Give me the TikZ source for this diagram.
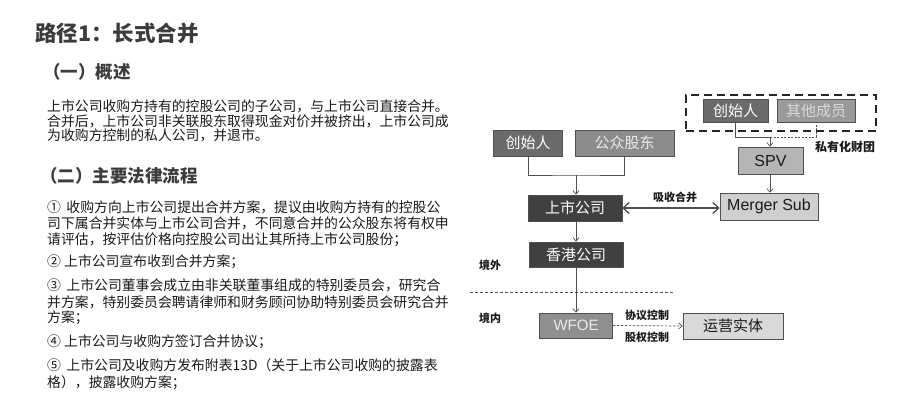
\documentclass[tikz,border=0pt]{standalone}
\usepackage{fontspec}
\setmainfont{Noto Sans CJK SC}
\newfontfamily\arial{Liberation Sans}
\usetikzlibrary{arrows.meta}
\definecolor{txt}{HTML}{1A1A1A}
\definecolor{ttl}{HTML}{3C3C3C}
\definecolor{ln}{HTML}{505050}
\definecolor{cA}{HTML}{6B6B6B}
\definecolor{cB}{HTML}{8C8C8C}
\definecolor{cC}{HTML}{404040}
\definecolor{cD}{HTML}{8F8F8F}
\definecolor{cE}{HTML}{D9D9D9}
\definecolor{cF}{HTML}{CFCFCF}
\definecolor{cG}{HTML}{B5B5B5}
\definecolor{cH}{HTML}{9A9A9A}
\begin{document}
\begin{tikzpicture}[x=1pt,y=-1pt,
  body/.style={anchor=west,inner sep=0pt,text=txt,font=\fontsize{13.85}{14}\selectfont},
  head/.style={anchor=west,inner sep=0pt,text=ttl,font=\fontsize{17.5}{18}\selectfont\bfseries},
  small/.style={inner sep=0pt,text=txt,font=\fontsize{11}{12}\selectfont\bfseries},
  bx/.style={draw=ln,line width=0.6pt,inner sep=0pt,font=\fontsize{15}{16}\selectfont},
  conn/.style={draw=ln,line width=0.7pt},
  arr/.style={conn,-{Straight Barb[length=3.5pt,width=6pt]}}
]
\useasboundingbox (0,0) rectangle (903,403);
% left text
\node[anchor=west,inner sep=0pt,text=ttl,font=\fontsize{21.5}{22}\selectfont\bfseries] (title) at (35,33) {路径1：长式合并};
\node[head] (h1) at (43,72) {（一）概述};
\node[body] (o1) at (47,106) {上市公司收购方持有的控股公司的子公司，与上市公司直接合并。};
\node[body] (o2) at (47,121) {合并后，上市公司非关联股东取得现金对价并被挤出，上市公司成};
\node[body] (o3) at (47,135) {为收购方控制的私人公司，并退市。};
\node[head] (h2) at (40,176) {（二）主要法律流程};
\node[body] (p1) at (47,207) {①\, 收购方向上市公司提出合并方案，提议由收购方持有的控股公};
\node[body] (p2) at (47,223) {司下属合并实体与上市公司合并，不同意合并的公众股东将有权申};
\node[body] (p3) at (47,240) {请评估，按评估价格向控股公司出让其所持上市公司股份；};
\node[body] (p4) at (47,262) {② 上市公司宣布收到合并方案；};
\node[body] (p5) at (47,285) {③\, 上市公司董事会成立由非关联董事组成的特别委员会，研究合};
\node[body] (p6) at (47,302) {并方案，特别委员会聘请律师和财务顾问协助特别委员会研究合并};
\node[body] (p7) at (47,318) {方案；};
\node[body] (p8) at (47,342) {④ 上市公司与收购方签订合并协议；};
\node[body] (p9) at (47,365) {⑤\, 上市公司及收购方发布附表13D（关于上市公司收购的披露表};
\node[body] (p10) at (47,383) {格），披露收购方案；};
% diagram boxes
\node[bx,fill=cA,text=white,minimum width=69pt,minimum height=26pt] (f1) at (528,143) {创始人};
\node[bx,fill=cB,text=white!92!black,minimum width=99pt,minimum height=26pt] (pub) at (624.5,143) {公众股东};
\node[bx,fill=cC,text=white,minimum width=94pt,minimum height=26pt] (ls) at (575,208) {上市公司};
\node[bx,fill=cC,text=white,minimum width=94pt,minimum height=25pt] (hk) at (576,254.5) {香港公司};
\node[bx,fill=cD,text=white!92!black,minimum width=73pt,minimum height=25pt,font=\arial\fontsize{15}{16}\selectfont] (wf) at (576,325.5) {WFOE};
\node[bx,fill=cE,text=txt,minimum width=100pt,minimum height=26pt] (op) at (733,326) {运营实体};
\node[bx,fill=cF,text=txt,minimum width=98pt,minimum height=27pt,font=\arial\fontsize{16}{17}\selectfont] (ms) at (769,206.5) {Merger Sub};
\node[bx,fill=cG,text=txt,minimum width=65pt,minimum height=27pt,font=\arial\fontsize{16}{17}\selectfont] (spv) at (770.5,160.5) {SPV};
\node[bx,fill=cA,text=white,minimum width=65pt,minimum height=23pt] (f2) at (735.5,110.5) {创始人};
\node[bx,fill=cH,text=white!85!black,minimum width=78pt,minimum height=23pt] (oth) at (816,110.5) {其他成员};
\node[draw=black!85,line width=1.8pt,dash pattern=on 8pt off 5pt,minimum width=190pt,minimum height=36pt,inner sep=0pt] (grp) at (781,113) {};
\node[small,font=\fontsize{12}{13}\selectfont\bfseries] (grpl) at (845,147) {私有化财团};
% connectors left
\coordinate (j1) at (576,175);
\draw[conn] (f1.south) |- (j1) -| (pub.south);
\draw[arr] (j1) -- (j1 |- ls.north);
\draw[arr] (ls.south -| j1) -- (hk.north -| j1);
\draw[arr] (hk.south -| j1) -- (wf.north -| j1);
\draw[conn,line width=1.3pt,{Straight Barb[length=6pt,width=11pt]}-{Straight Barb[length=6pt,width=11pt]}] (ls.east) -- (ls.east -| ms.west);
\node[small] (absl) at (675,197) {吸收合并};
% connectors right
\coordinate (j2) at (770,137);
\draw[conn] (f2.south) |- (j2);
\draw[conn,dash pattern=on 2pt off 1.5pt] (j2) -| (oth.south);
\draw[arr] (j2) -- (j2 |- spv.north);
\draw[arr] (spv.south -| j2) -- (ms.north -| j2);
% bottom
\draw[arr,dash pattern=on 2.5pt off 1.5pt] (wf.east) -- (op.west);
\node[small] (xy) at (647,315) {协议控制};
\node[small] (gq) at (647,337) {股权控制};
\coordinate (b1) at (470,292);
\coordinate (b2) at (675,292);
\draw[conn,line width=0.6pt,dash pattern=on 3pt off 2pt] (b1) -- (b2);
\node[small] (jw) at (490,265) {境外};
\node[small] (jn) at (490,318) {境内};
\end{tikzpicture}
\end{document}
